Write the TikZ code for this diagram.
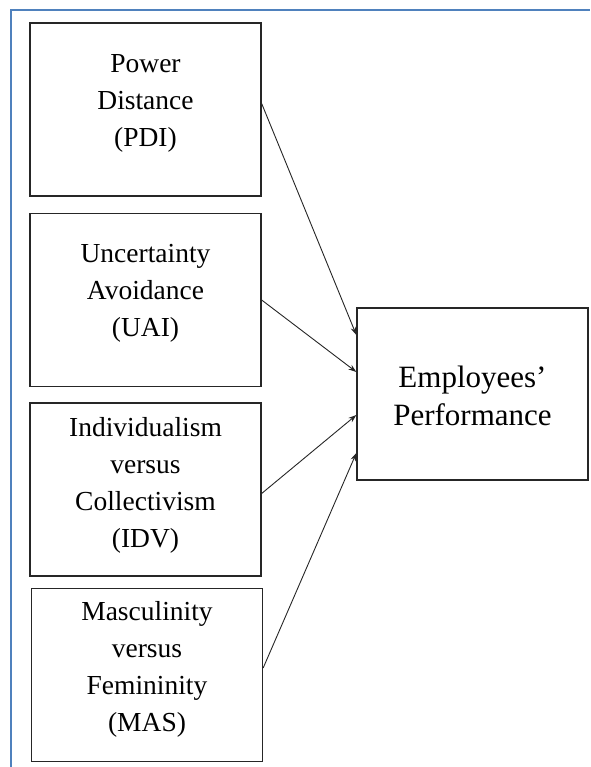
\documentclass[tikz,border=0pt]{standalone}
\usepackage{fontspec}
\setmainfont{Liberation Serif}
\usetikzlibrary{arrows.meta}
\definecolor{frameblue}{RGB}{79,129,189}
\begin{document}
\begin{tikzpicture}[x=1pt,y=-1pt,>={Stealth[length=8pt,width=5.5pt]},
  dim/.style={draw=black!85,line width=1.3pt,minimum width=231pt,minimum height=173pt,inner sep=0pt},
  lbl/.style={align=center,font=\fontsize{27.5}{37}\selectfont},
  link/.style={->,line width=0.9pt,black!85}]
  \useasboundingbox (0,0) rectangle (590,767);
  \draw[line width=2.5pt,frameblue] (11,767) -- (11,10) -- (590,10);
  \node[dim] (pdi) at (145.5,109.5) {};
  \node[dim] (uai) at (145.5,300) {};
  \node[dim] (idv) at (145.5,489.5) {};
  \node[dim] (mas) at (147,675) {};
  \node[dim,minimum height=172pt] (perf) at (472.5,394) {};
  \node[lbl] (pdilbl) at ([yshift=6pt]pdi.center) {Power\\Distance\\(PDI)};
  \node[lbl] (uailbl) at ([yshift=7pt]uai.center) {Uncertainty\\Avoidance\\(UAI)};
  \node[lbl] (idvlbl) at ([yshift=4pt]idv.center) {Individualism\\versus\\Collectivism\\(IDV)};
  \node[lbl] (maslbl) at ([yshift=6pt]mas.center) {Masculinity\\versus\\Femininity\\(MAS)};
  \node[align=center,font=\fontsize{31}{38}\selectfont] (perflbl) at ([yshift=-2pt]perf.center) {Employees'\\Performance};
  \draw[link] ([yshift=6pt]pdi.east) -- ([yshift=59pt]perf.west);
  \draw[link] (uai.east) -- ([yshift=22pt]perf.west);
  \draw[link] ([yshift=-4pt]idv.east) -- ([yshift=-21pt]perf.west);
  \draw[link] ([yshift=7pt]mas.east) -- ([yshift=-59pt]perf.west);
\end{tikzpicture}
\end{document}
